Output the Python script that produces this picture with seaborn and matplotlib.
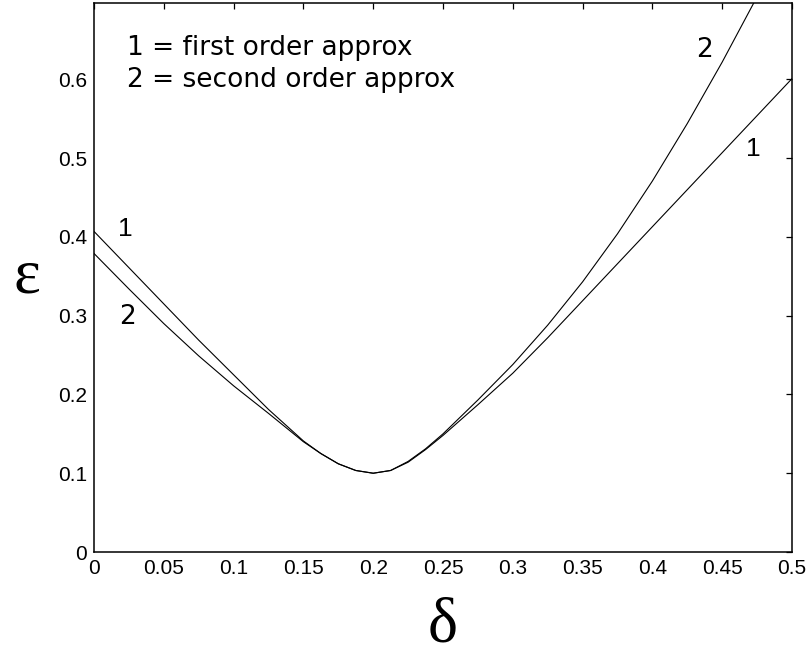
import matplotlib
matplotlib.use("Agg")
import matplotlib.pyplot as plt
import pandas as pd
import seaborn as sns

# delta values at which each approximation was evaluated
delta_first = [0.0, 0.025, 0.05, 0.075, 0.1, 0.125, 0.15, 0.1625, 0.175, 0.1875,
               0.2, 0.2125, 0.225, 0.2375, 0.25, 0.275, 0.3, 0.325, 0.35, 0.375,
               0.4, 0.425, 0.45, 0.475, 0.5]
eps_first = [0.407, 0.361, 0.315, 0.269, 0.225, 0.181, 0.141, 0.125, 0.112, 0.1035,
             0.100, 0.1035, 0.114, 0.130, 0.148, 0.187, 0.227, 0.272, 0.319, 0.366,
             0.413, 0.460, 0.507, 0.554, 0.601]

delta_second = [0.0, 0.025, 0.05, 0.075, 0.1, 0.125, 0.15, 0.1625, 0.175, 0.1875,
                0.2, 0.2125, 0.225, 0.2375, 0.25, 0.275, 0.3, 0.325, 0.35, 0.375,
                0.4, 0.425, 0.45, 0.475]
eps_second = [0.379, 0.334, 0.290, 0.249, 0.211, 0.176, 0.140, 0.125, 0.112, 0.1035,
              0.100, 0.1035, 0.115, 0.131, 0.150, 0.193, 0.238, 0.288, 0.343, 0.404,
              0.471, 0.544, 0.622, 0.705]

x_ticks = [0, 0.05, 0.1, 0.15, 0.2, 0.25, 0.3, 0.35, 0.4, 0.45, 0.5]
x_tick_labels = ["0", "0.05", "0.1", "0.15", "0.2", "0.25", "0.3", "0.35", "0.4", "0.45", "0.5"]
y_ticks = [0, 0.1, 0.2, 0.3, 0.4, 0.5, 0.6]
y_tick_labels = ["0", "0.1", "0.2", "0.3", "0.4", "0.5", "0.6"]

legend_lines = ["1 = first order approx", "2 = second order approx"]

sns.set_style("white", {"text.color": "black", "axes.labelcolor": "black",
                        "xtick.color": "black", "ytick.color": "black",
                        "axes.edgecolor": "black"})
plt.rcParams["font.family"] = ["Liberation Sans", "DejaVu Sans"]

df = pd.concat([
    pd.DataFrame({"delta": delta_first, "eps": eps_first, "order": "1"}),
    pd.DataFrame({"delta": delta_second, "eps": eps_second, "order": "2"}),
])

fig = plt.figure(figsize=(8.06, 6.54), dpi=100)
ax = fig.add_axes([94 / 806, 1 - 552 / 654, 698 / 806, 549 / 654])

sns.lineplot(data=df, x="delta", y="eps", hue="order", palette=["black", "black"],
             linewidth=0.8, legend=False, sort=False, estimator=None, ax=ax)

ax.set_xlim(0, 0.5)
ax.set_ylim(0, 0.697)
ax.set_xticks(x_ticks)
ax.set_xticklabels(x_tick_labels)
ax.set_yticks(y_ticks)
ax.set_yticklabels(y_tick_labels)
ax.tick_params(direction="in", length=4.5, width=0.9, top=True, right=True,
               labelsize=15, pad=5, colors="black")
for s in ax.spines.values():
    s.set_visible(True)
    s.set_color("black")
    s.set_linewidth(1.1)

ax.set_xlabel("δ", fontsize=46, family="Liberation Serif", color="black")
ax.xaxis.set_label_coords(0.5, -0.083)
ax.set_ylabel("ε", fontsize=46, family="Liberation Serif", rotation=0,
              va="center", ha="center", color="black")
ax.yaxis.set_label_coords(-0.096, 0.5)

# legend text block
ax.text(0.047, 0.918, legend_lines[0], transform=ax.transAxes, fontsize=19,
        family="DejaVu Sans", va="center", ha="left", color="black")
ax.text(0.047, 0.86, legend_lines[1], transform=ax.transAxes, fontsize=19,
        family="DejaVu Sans", va="center", ha="left", color="black")

# curve tags
ax.text(0.017, 0.41, "1", fontsize=19, va="center", ha="left", color="black")
ax.text(0.018, 0.298, "2", fontsize=19, family="DejaVu Sans", va="center", ha="left",
        color="black")
ax.text(0.431, 0.637, "2", fontsize=19, family="DejaVu Sans", va="center", ha="left",
        color="black")
ax.text(0.467, 0.512, "1", fontsize=19, va="center", ha="left", color="black")

fig.savefig("out.png", dpi=100, facecolor="white")
